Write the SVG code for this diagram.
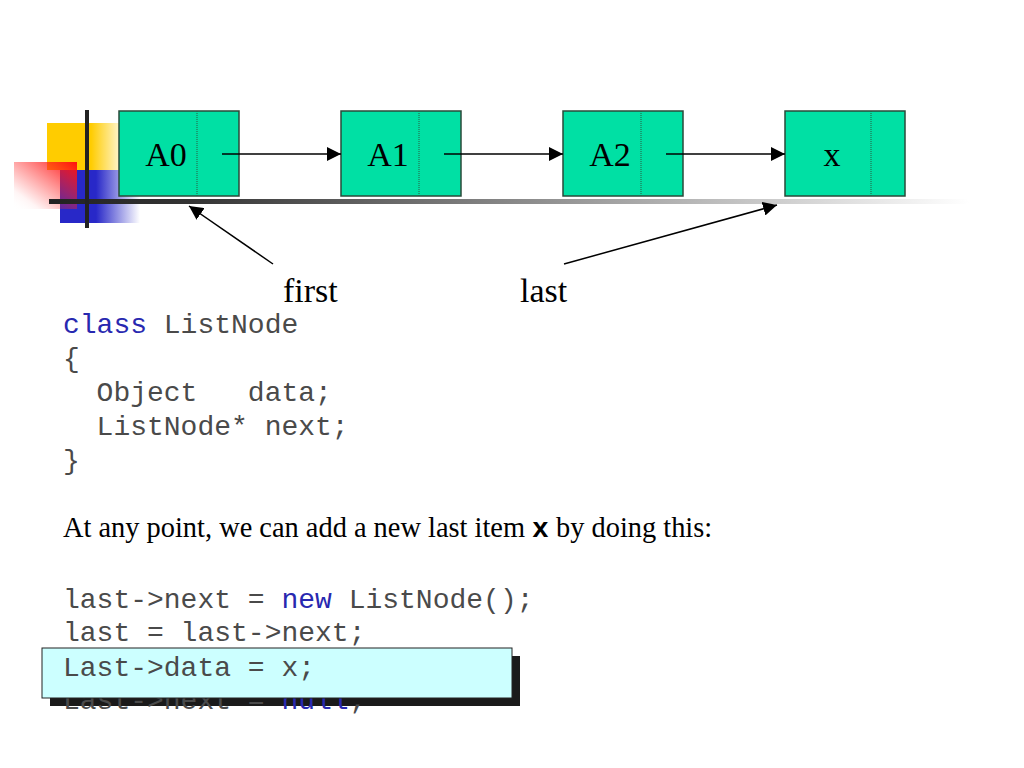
<svg xmlns="http://www.w3.org/2000/svg" width="1024" height="768" viewBox="0 0 1024 768">
<defs>
<linearGradient id="gYel" x1="0" y1="0" x2="1" y2="0"><stop offset="0" stop-color="#FFCC00"/><stop offset="0.55" stop-color="#FFCC00"/><stop offset="1" stop-color="#FFCC00" stop-opacity="0"/></linearGradient>
<linearGradient id="gBlu" x1="0" y1="0" x2="1" y2="0"><stop offset="0" stop-color="#2828C8"/><stop offset="0.45" stop-color="#2828C8"/><stop offset="1" stop-color="#2828C8" stop-opacity="0"/></linearGradient>
<linearGradient id="gRed" x1="1" y1="0" x2="0" y2="1"><stop offset="0" stop-color="#FF1010"/><stop offset="0.8" stop-color="#FF3030" stop-opacity="0.05"/><stop offset="1" stop-color="#FFFFFF" stop-opacity="0"/></linearGradient>
<linearGradient id="gBar" x1="0" y1="0" x2="1" y2="0"><stop offset="0" stop-color="#222"/><stop offset="0.15" stop-color="#333"/><stop offset="1" stop-color="#FFFFFF"/></linearGradient>
<marker id="arr" viewBox="0 0 10 10" refX="10" refY="5" markerWidth="14" markerHeight="14" markerUnits="userSpaceOnUse" orient="auto"><path d="M0,0 L10,5 L0,10 z" fill="#000"/></marker>
<style>
.node{fill:#00E0A4;stroke:#2a4a3a;stroke-width:1.5}
.div{stroke:#2a5a40;stroke-width:1;stroke-dasharray:1 1}
.lbl{font-family:"Liberation Serif","Times New Roman",serif;font-size:34px;fill:#000}
.code{font-family:"Liberation Mono","Courier New",monospace;font-size:28px;fill:#4a4a4a;white-space:pre}
.kw{fill:#2828B0}
.tx{font-family:"Liberation Serif","Times New Roman",serif;font-size:28.4px;fill:#000}
.con{stroke:#000;stroke-width:1.5;fill:none}
</style>
</defs>
<rect width="1024" height="768" fill="#fff"/>
<g id="decoration">
<rect x="47" y="123" width="80" height="47" fill="url(#gYel)"/>
<rect x="60" y="170" width="80" height="53" fill="url(#gBlu)"/>
<rect x="14" y="162" width="63" height="47" fill="url(#gRed)"/>
<rect x="49" y="199" width="920" height="5" fill="url(#gBar)"/>
<rect x="85" y="110" width="4" height="118" fill="#222"/>
</g>
<g id="node-A0"><rect class="node" x="119" y="111" width="120" height="85"/><line class="div" x1="197" y1="111" x2="197" y2="196"/><text class="lbl" x="166" y="166" text-anchor="middle">A0</text></g>
<g id="node-A1"><rect class="node" x="341" y="111" width="120" height="85"/><line class="div" x1="419" y1="111" x2="419" y2="196"/><text class="lbl" x="388" y="166" text-anchor="middle">A1</text></g>
<g id="node-A2"><rect class="node" x="563" y="111" width="120" height="85"/><line class="div" x1="641" y1="111" x2="641" y2="196"/><text class="lbl" x="610" y="166" text-anchor="middle">A2</text></g>
<g id="node-x"><rect class="node" x="785" y="111" width="120" height="85"/><line class="div" x1="871" y1="111" x2="871" y2="196"/><text class="lbl" x="832" y="166" text-anchor="middle">x</text></g>
<g id="connectors">
<line class="con" x1="222" y1="154" x2="341" y2="154" marker-end="url(#arr)"/>
<line class="con" x1="444" y1="154" x2="563" y2="154" marker-end="url(#arr)"/>
<line class="con" x1="666" y1="154" x2="785" y2="154" marker-end="url(#arr)"/>
<line class="con" x1="273" y1="264" x2="189" y2="206" marker-end="url(#arr)"/>
<line class="con" x1="564" y1="264" x2="777" y2="205" marker-end="url(#arr)"/>
</g>
<g id="labels">
<text class="lbl" x="283" y="302">first</text>
<text class="lbl" x="520" y="302">last</text>
</g>
<g id="code">
<text class="code" x="63" y="333" xml:space="preserve"><tspan class="kw">class</tspan> ListNode</text>
<text class="code" x="63" y="367" xml:space="preserve">{</text>
<text class="code" x="63" y="401" xml:space="preserve">  Object   data;</text>
<text class="code" x="63" y="435" xml:space="preserve">  ListNode* next;</text>
<text class="code" x="63" y="469" xml:space="preserve">}</text>
<text class="tx" x="63" y="537">At any point, we can add a new last item <tspan font-family="'Liberation Mono',monospace" font-weight="bold" font-size="28">x</tspan> by doing this:</text>
<text class="code" x="63" y="608" xml:space="preserve">last-&gt;next = <tspan class="kw">new</tspan> ListNode();</text>
<text class="code" x="63" y="641" xml:space="preserve">last = last-&gt;next;</text>
<rect x="50" y="656" width="470" height="50" fill="#1a1a1a"/>
<text class="code" x="63" y="709" xml:space="preserve">Last-&gt;next = <tspan class="kw">null</tspan>;</text>
<rect x="42" y="648" width="470" height="50" fill="#CCFFFF" stroke="#222" stroke-width="1"/>
<text class="code" x="63" y="676" xml:space="preserve">Last-&gt;data = x;</text>
</g>
</svg>
